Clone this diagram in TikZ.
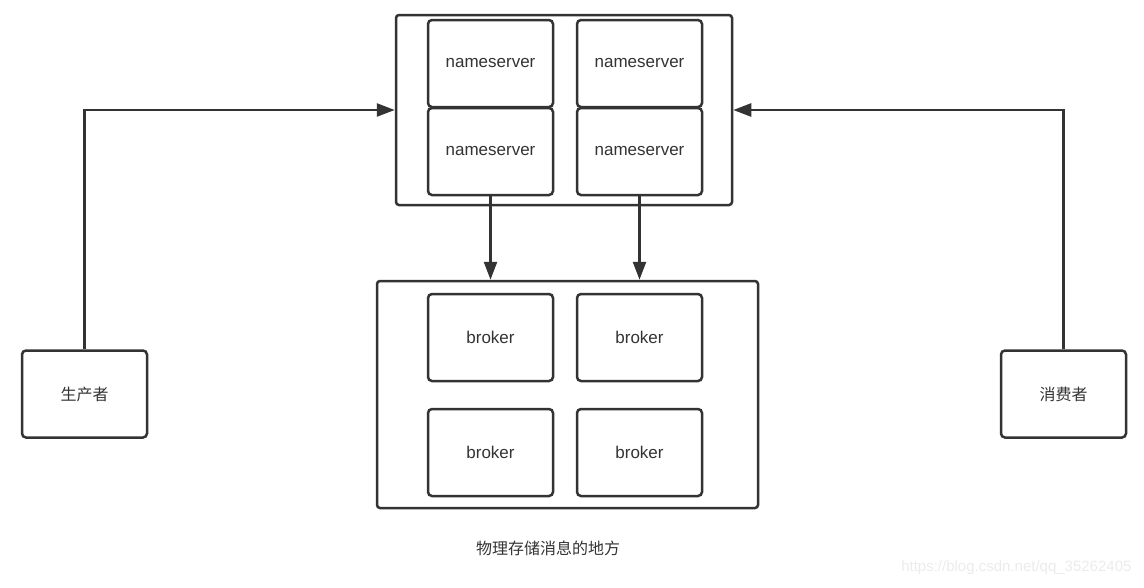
\documentclass[tikz,border=0pt]{standalone}
\usepackage{fontspec}
\setmainfont{Liberation Sans}
\newfontfamily\cjk{Noto Sans CJK SC}
\usetikzlibrary{arrows.meta}

\definecolor{ink}{HTML}{333333}
\definecolor{mark}{HTML}{EBEBEB}

\tikzset{
    pil/.style={ -{Triangle[length=18pt,width=13pt]}, line width=2.5pt, draw=ink},
    %boxes
    holder/.style={ draw=ink, line width=2.5pt, rounded corners=3pt},
    unit/.style={ draw=ink, line width=2.5pt, rounded corners=4pt, minimum width=125pt, minimum height=87pt, text=ink, font=\fontsize{17}{20}\selectfont},
    hanzi/.style={ font=\cjk\fontsize{16}{19}\selectfont},
  }

\begin{document}
\begin{tikzpicture}[x=1pt,y=-1pt]

\useasboundingbox (0,0) rectangle (1144,587);

% nameserver cluster
  \node[holder, minimum width=336pt, minimum height=190pt] (nsbox) at (564,110) {};
  \node[unit] (ns1) at (490.5,63.5)  {nameserver};
  \node[unit] (ns2) at (639.5,63.5)  {nameserver};
  \node[unit] (ns3) at (490.5,151.5) {nameserver};
  \node[unit] (ns4) at (639.5,151.5) {nameserver};

% broker cluster
  \node[holder, minimum width=381pt, minimum height=227pt] (bkbox) at (567.5,394.5) {};
  \node[unit] (bk1) at (490.5,337.5) {broker};
  \node[unit] (bk2) at (639.5,337.5) {broker};
  \node[unit] (bk3) at (490.5,452.5) {broker};
  \node[unit] (bk4) at (639.5,452.5) {broker};

  \node[text=ink, hanzi] (store) at (548,548) {物理存储消息的地方};

% producer and consumer
  \node[unit, hanzi] (prod) at (84.5,394)   {生产者};
  \node[unit, hanzi] (cons) at (1063.5,394) {消费者};

  \draw[pil] (prod.north) |- (nsbox.west);
  \draw[pil] (cons.north) |- (nsbox.east);

  \draw[pil] (ns3.south) -- (ns3.south |- bkbox.north);
  \draw[pil] (ns4.south) -- (ns4.south |- bkbox.north);

  \node[text=mark, font=\fontsize{15}{18}\selectfont, anchor=east] (wmark) at (1135,568) {https://blog.csdn.net/qq\_35262405};

\end{tikzpicture}
\end{document}
